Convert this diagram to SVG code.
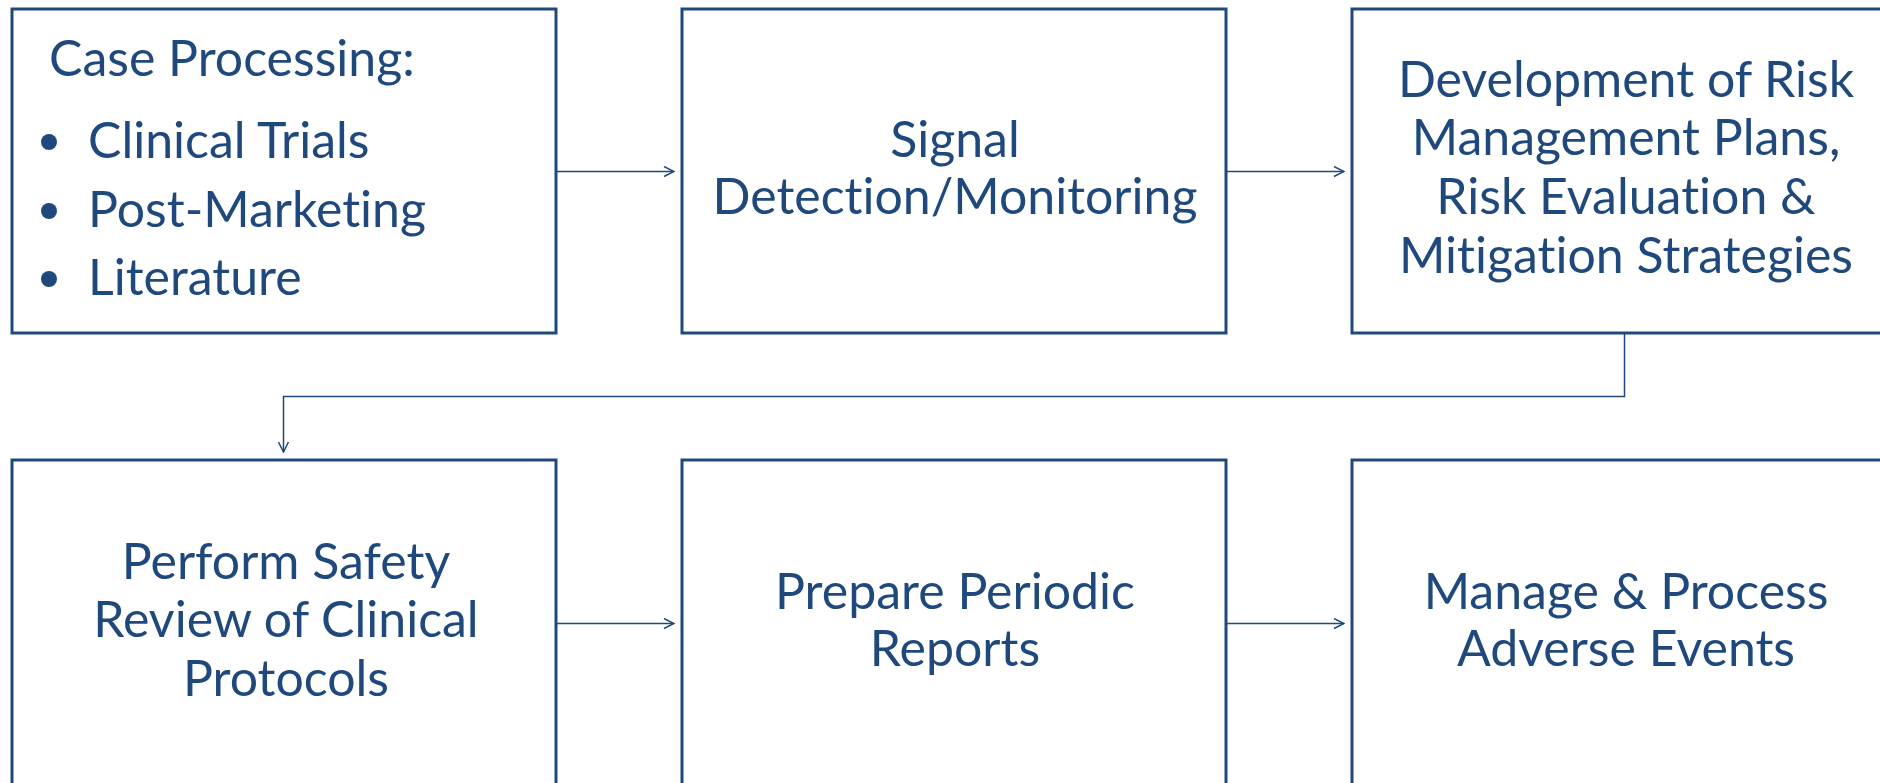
<svg xmlns="http://www.w3.org/2000/svg" width="1880" height="783" viewBox="0 0 1880 783">
<style>
.box{fill:#fff;stroke:#1F497D;stroke-width:3}
.t{font-family:Lato,"Open Sans",sans-serif;font-size:50px;fill:#1F497D;font-variant-ligatures:none}
.c{text-anchor:middle}
.con{fill:none;stroke:#1F497D;stroke-width:1.5}
</style>
<defs>
<marker id="ah" viewBox="0 0 12 12" refX="11" refY="6" markerWidth="12" markerHeight="12" markerUnits="userSpaceOnUse" orient="auto">
<path d="M1 1 L11 6 L1 11" fill="none" stroke="#1F497D" stroke-width="1.5"/>
</marker>
</defs>
<g id="connectors">
<line class="con" x1="556" y1="171.5" x2="674" y2="171.5" marker-end="url(#ah)"/>
<line class="con" x1="1226" y1="171.5" x2="1344" y2="171.5" marker-end="url(#ah)"/>
<polyline class="con" points="1624.5,334 1624.5,396.5 283.5,396.5 283.5,452" marker-end="url(#ah)"/>
<line class="con" x1="556" y1="623.5" x2="674" y2="623.5" marker-end="url(#ah)"/>
<line class="con" x1="1226" y1="623.5" x2="1344" y2="623.5" marker-end="url(#ah)"/>
</g>
<g id="n1">
<rect class="box" x="12" y="9" width="544" height="324"/>
<text class="t" x="49" y="76">Case Processing:</text>
<circle cx="49" cy="142" r="8" fill="#1F497D"/>
<circle cx="49" cy="211" r="8" fill="#1F497D"/>
<circle cx="49" cy="279" r="8" fill="#1F497D"/>
<text class="t" x="88" y="158">Clinical Trials</text>
<text class="t" x="88" y="227">Post-Marketing</text>
<text class="t" x="88" y="295">Literature</text>
</g>
<g id="n2">
<rect class="box" x="682" y="9" width="544" height="324"/>
<text class="t c" x="955" y="157">Signal</text>
<text class="t c" x="955" y="214">Detection/Monitoring</text>
</g>
<g id="n3">
<rect class="box" x="1352" y="9" width="544" height="324"/>
<text class="t c" x="1626" y="97">Development of Risk</text>
<text class="t c" x="1626" y="155">Management Plans,</text>
<text class="t c" x="1626" y="214">Risk Evaluation &amp;</text>
<text class="t c" x="1626" y="273">Mitigation Strategies</text>
</g>
<g id="n4">
<rect class="box" x="12" y="460" width="544" height="326"/>
<text class="t c" x="286" y="579">Perform Safety</text>
<text class="t c" x="286" y="637">Review of Clinical</text>
<text class="t c" x="286" y="696">Protocols</text>
</g>
<g id="n5">
<rect class="box" x="682" y="460" width="544" height="326"/>
<text class="t c" x="955" y="609">Prepare Periodic</text>
<text class="t c" x="955" y="666">Reports</text>
</g>
<g id="n6">
<rect class="box" x="1352" y="460" width="544" height="326"/>
<text class="t c" x="1626" y="609">Manage &amp; Process</text>
<text class="t c" x="1626" y="666">Adverse Events</text>
</g>
</svg>
